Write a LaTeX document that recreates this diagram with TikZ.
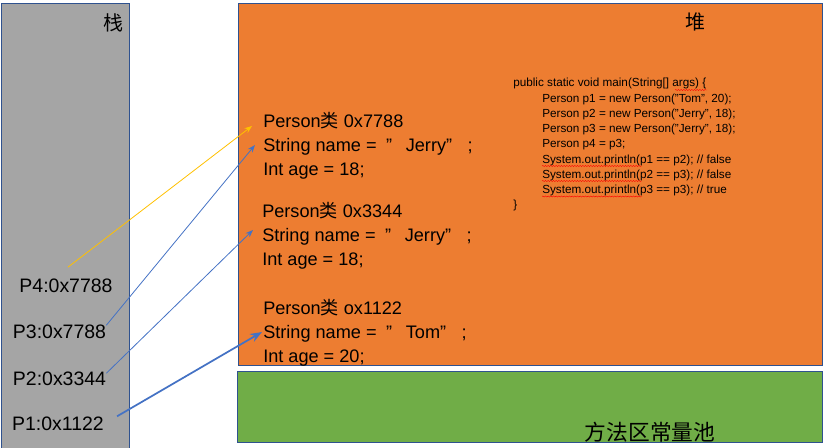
\documentclass[tikz,border=0pt]{standalone}
\usepackage{fontspec}
\setmainfont{Liberation Sans}
\newfontfamily\cjk{Noto Sans CJK SC}
\usetikzlibrary{positioning, calc, arrows.meta, decorations.pathmorphing}

\definecolor{stackgray}{HTML}{A5A5A5}
\definecolor{heaporange}{HTML}{ED7D31}
\definecolor{poolgreen}{HTML}{70AD47}
\definecolor{edgeblue}{HTML}{2F528F}
\definecolor{refblue}{HTML}{4472C4}
\definecolor{refyellow}{HTML}{FFC000}

% quoted name as the heap boxes print it
\newcommand{\qname}[1]{\ \hspace{0.25em}”\hspace{0.75em}#1”\hspace{0.85em}}

\begin{document}
\begin{tikzpicture}[x=0.75pt, y=-0.75pt, >=Stealth,
    area/.style={draw=edgeblue, line width=0.6pt},
    obj/.style={anchor=base west, align=left, inner sep=0pt, font=\fontsize{13.6pt}{18pt}\selectfont},
    ptr/.style={anchor=base, inner sep=0pt, font=\fontsize{14.6pt}{16pt}\selectfont},
    codeline/.style={anchor=base west, inner sep=0pt, font=\fontsize{8.8pt}{11pt}\selectfont},
    title/.style={font=\cjk\fontsize{15pt}{18pt}\selectfont},
    spell/.style={red, line width=0.3pt, decorate, decoration={snake, amplitude=0.4pt, segment length=2pt}}]
    \useasboundingbox (0,0) rectangle (826,448);

    % Areas
    \fill[stackgray] (1,3) rectangle (129,448);
    \draw[area] (1,448) -- (1,3) -- (129,3) -- (129,448);
    \draw[area, fill=heaporange] (238,3) rectangle (822,365);
    \fill[poolgreen] (237,371) rectangle (822,442);

    % Area titles
    \node[title] (stacktitle) at (113,22.5) {栈};
    \node[title] (heaptitle) at (695,22) {堆};
    \begin{scope}
        \clip (237,371) rectangle (822,442);
        \node[title, font=\cjk\fontsize{16.3pt}{18pt}\selectfont] (pooltitle) at (650,432.5) {方法区常量池};
    \end{scope}
    \draw[area] (237,371) rectangle (822,442);

    % Stack references
    \node[ptr] (pfour) at (66,293) {P4:0x7788};
    \node[ptr] (pthree) at (59.5,339) {P3:0x7788};
    \node[ptr] (ptwo) at (59.5,386) {P2:0x3344};
    \node[ptr] (pone) at (58,431) {P1:0x1122};

    % Objects on the heap (anchored at the last line)
    \node[obj] (obja) at (263,176) {Person{\cjk 类} 0x7788\\String name =\qname{Jerry};\\Int age = 18;};
    \node[obj] (objb) at (262,266) {Person{\cjk 类} 0x3344\\String name =\qname{Jerry};\\Int age = 18;};
    \node[obj] (objc) at (263,363) {Person{\cjk 类} ox1122\\String name =\qname{Tom};\\Int age = 20;};

    % Code
    \node[codeline] (code0) at (513,87) {public static void main(String[] args) \{};
    \node[codeline] (code1) at (542,102.5) {Person p1 = new Person("Tom", 20);};
    \node[codeline] (code2) at (542,117.5) {Person p2 = new Person("Jerry", 18);};
    \node[codeline] (code3) at (542,132.5) {Person p3 = new Person("Jerry", 18);};
    \node[codeline] (code4) at (542,148) {Person p4 = p3;};
    \node[codeline] (code5) at (542,163.5) {System.out.println(p1 == p2); // false};
    \node[codeline] (code6) at (542,178.5) {System.out.println(p2 == p3); // false};
    \node[codeline] (code7) at (542,193.5) {System.out.println(p3 == p3); // true};
    \node[codeline] (code8) at (513,209) {\}};

    % Spell-check marks
    \draw[spell] (675,90) -- (707,90);
    \foreach \y in {166,181,196.5} {
        \draw[spell] (542,\y) -- (642,\y);
    }

    % Arrow ends
    \coordinate (tipa) at (252,126);
    \coordinate (tipb) at (255,145);
    \coordinate (tipc) at (253,230);
    \coordinate (tipd) at (262,332);

    % References
    \draw[->, refyellow, line width=0.6pt] ($(pfour.north)+(2,-12)$) -- (tipa);
    \draw[->, refblue, line width=0.6pt] ($(pthree.east)+(0,-7)$) -- (tipb);
    \draw[->, refblue, line width=0.6pt] ($(ptwo.east)+(0,-6)$) -- (tipc);
    \draw[->, refblue, line width=1.3pt] ($(pone.east)+(13,-8)$) -- (tipd);
\end{tikzpicture}
\end{document}
